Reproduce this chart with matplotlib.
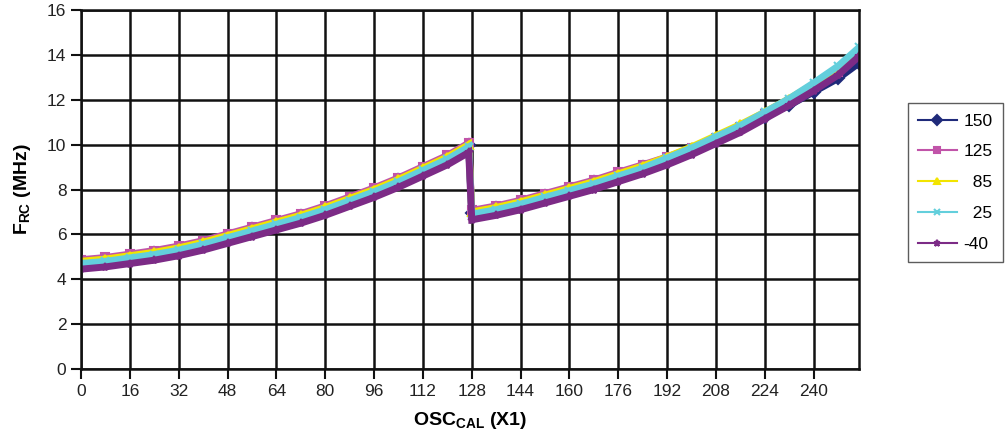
import numpy as np
import matplotlib
matplotlib.use("Agg")
import matplotlib.pyplot as plt

plt.rcParams['font.family'] = ['Liberation Sans', 'DejaVu Sans']
plt.rcParams['mathtext.fontset'] = 'custom'
plt.rcParams['mathtext.rm'] = 'Liberation Sans'
plt.rcParams['mathtext.bf'] = 'Liberation Sans:bold'

# OSCCAL settings
osccal = [0, 8, 16, 24, 32, 40, 48, 56, 64, 72, 80, 88, 96, 104, 112, 120, 127,
          128, 136, 144, 152, 160, 168, 176, 184, 192, 200, 208, 216, 224, 232, 240, 248, 255]

# frequency (MHz) per temperature
f_150 = [4.78, 4.88, 5.03, 5.18, 5.38, 5.62, 5.92, 6.22, 6.52, 6.82, 7.17, 7.57, 7.97, 8.42, 8.92, 9.42, 9.97,
         6.97, 7.17, 7.42, 7.72, 8.02, 8.32, 8.67, 9.0, 9.35, 9.75, 10.2, 10.7, 11.25, 11.75, 12.35, 12.95, 13.65]
f_125 = [4.87, 4.97, 5.12, 5.28, 5.48, 5.72, 6.02, 6.32, 6.62, 6.92, 7.27, 7.67, 8.07, 8.52, 9.02, 9.52, 10.07,
         7.07, 7.27, 7.52, 7.82, 8.12, 8.42, 8.77, 9.1, 9.45, 9.85, 10.3, 10.8, 11.35, 11.9, 12.55, 13.25, 14.1]
f_85 = [4.8, 4.9, 5.05, 5.2, 5.4, 5.65, 5.95, 6.25, 6.55, 6.85, 7.2, 7.6, 8.0, 8.45, 8.95, 9.45, 10.0,
        7.0, 7.2, 7.45, 7.75, 8.05, 8.35, 8.7, 9.05, 9.45, 9.9, 10.4, 10.9, 11.45, 12.05, 12.7, 13.4, 14.2]
f_25 = [4.7, 4.8, 4.95, 5.1, 5.3, 5.55, 5.85, 6.15, 6.45, 6.75, 7.1, 7.5, 7.9, 8.35, 8.85, 9.35, 9.9,
        6.9, 7.1, 7.35, 7.65, 7.95, 8.25, 8.6, 8.95, 9.4, 9.85, 10.35, 10.85, 11.45, 12.05, 12.75, 13.5, 14.35]
f_m40 = [4.45, 4.55, 4.7, 4.85, 5.05, 5.3, 5.6, 5.9, 6.2, 6.5, 6.85, 7.25, 7.65, 8.1, 8.6, 9.1, 9.65,
         6.65, 6.85, 7.1, 7.4, 7.7, 8.0, 8.35, 8.7, 9.1, 9.55, 10.05, 10.55, 11.15, 11.75, 12.4, 13.1, 13.95]

labels = ['150', '125', '  85', '  25', '-40']
colors = ['#1f2a7a', '#c154a9', '#f2e400', '#63cfdc', '#7c2b86']
markers = ['D', 's', '^', 'x', '*']

fig = plt.figure(figsize=(10.05, 4.37), dpi=100)
ax = fig.add_axes([0.0806, 0.1556, 0.7746, 0.8215])

series = [f_150, f_125, f_85, f_25, f_m40]
for ys, lab, c, m in zip(series, labels, colors, markers):
    ax.plot(osccal, ys, color=c, lw=5, marker=m, markersize=6,
            markeredgewidth=1.5, label=lab, solid_joinstyle='miter')

ax.set_xlim(0, 255)
ax.set_ylim(0, 16)
ax.set_xticks(np.arange(0, 241, 16))
ax.set_yticks(np.arange(0, 17, 2))
ax.grid(True, color='#111111', lw=1.8)
ax.set_axisbelow(True)
for s in ax.spines.values():
    s.set_linewidth(1.8)
    s.set_color('#111111')
ax.tick_params(axis='both', direction='out', length=7, width=1.5,
               labelsize=12.5, colors='#111111', labelcolor='#222222')

ax.set_xlabel(r'$\mathbf{OSC_{CAL}}$ (X1)', fontsize=14, fontweight='bold', labelpad=8)
ax.set_ylabel(r'$\mathbf{F_{RC}}$ (MHz)', fontsize=14, fontweight='bold', labelpad=10)

leg = ax.legend(loc='upper right', bbox_to_anchor=(0.998, 0.764),
                bbox_transform=fig.transFigure, fontsize=12.5, frameon=True,
                fancybox=False, edgecolor='#333333', handlelength=2.2,
                handletextpad=0.4, labelspacing=0.9, borderpad=0.6,
                borderaxespad=0)
for h in leg.legend_handles:
    h.set_linewidth(1.5)
    h.set_markersize(5)
leg.get_frame().set_linewidth(1.0)

fig.savefig('out.png', dpi=100)
